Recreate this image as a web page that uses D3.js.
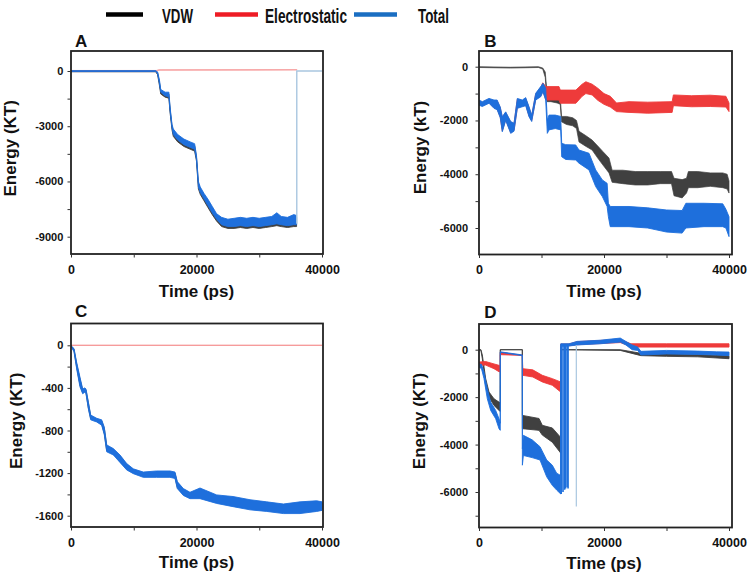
<!DOCTYPE html>
<html><head><meta charset="utf-8">
<script src="https://cdn.jsdelivr.net/npm/d3@7"></script>
<style>body{margin:0;background:#fff;} svg{display:block;font-family:Arial,"Liberation Sans",sans-serif;}</style>
</head><body><svg id="c" width="753" height="580"></svg>
<script>
// ---------- data ----------
const legendLabels = ["VDW", "Electrostatic", "Total"];
const xTicksMajor = [0, 20000, 40000];
const xTicksMinor = [10000, 30000];
const yTicksA = [0, -3000, -6000, -9000], yMinorA = [-1500, -4500, -7500];
const yTicksB = [0, -2000, -4000, -6000], yMinorB = [-1000, -3000, -5000];
const yTicksC = [0, -400, -800, -1200, -1600], yMinorC = [-200, -600, -1000, -1400];
const yTicksD = [0, -2000, -4000, -6000], yMinorD = [-1000, -3000, -5000, -7000];

// series: [time (ps), low, high]
const A_vdw = [[0,-40,0],[13500,-40,0],[13800,-200,-100],[14100,-800,-600],[14300,-1250,-1100],[15000,-1420,-1250],[15600,-1480,-1250],[15800,-2300,-2100],[16100,-3200,-3000],[16300,-3550,-3250],[17000,-3850,-3550],[18000,-4100,-3800],[19000,-4250,-3950],[19700,-4350,-4050],[20000,-4900,-4700],[20300,-6400,-6100],[20600,-6700,-6400],[21200,-7050,-6750],[21800,-7400,-7050],[22500,-7800,-7450],[23200,-8150,-7850],[24000,-8450,-8050],[25000,-8550,-8150],[26000,-8550,-8100],[27000,-8500,-8050],[28000,-8550,-8100],[29000,-8500,-8050],[30000,-8550,-8100],[31000,-8500,-8050],[32000,-8450,-8000],[32800,-8400,-7800],[33500,-8450,-8000],[34500,-8500,-8050],[35500,-8450,-7900],[35950,-8450,-7950]];
const A_elec = [[0,-30,30],[13600,-30,30],[14000,40,70],[36000,50,80]];
const A_total = [[0,-30,20],[13500,-30,20],[13800,-150,-50],[14100,-700,-500],[14300,-1150,-1000],[15000,-1350,-1150],[15600,-1400,-1150],[15800,-2200,-2000],[16100,-3100,-2900],[16300,-3450,-3150],[17000,-3750,-3450],[18000,-4000,-3700],[19000,-4150,-3850],[19700,-4250,-3950],[20000,-4800,-4600],[20300,-6300,-6000],[20600,-6600,-6300],[21200,-6950,-6650],[21800,-7300,-6950],[22500,-7700,-7350],[23200,-8050,-7750],[24000,-8350,-7950],[25000,-8450,-8050],[26000,-8450,-8000],[27000,-8400,-7950],[28000,-8450,-8000],[29000,-8400,-7950],[30000,-8450,-8000],[31000,-8400,-7950],[32000,-8350,-7900],[32800,-8300,-7700],[33500,-8350,-7900],[34500,-8400,-7950],[35500,-8350,-7800],[35950,-8350,-7850]];
const A_totalTail = [[35980,-8300],[35980,0],[40000,0]];

const B_vdw = [[0,-30,0],[5000,-50,-20],[9500,-30,0],[10200,-90,-50],[10600,-400,-200],[10900,-1300,-1050],[11500,-1300,-1000],[12500,-1350,-1050],[13000,-1400,-1100],[13200,-2050,-1850],[14000,-2150,-1850],[15000,-2200,-1900],[15600,-2300,-2000],[16000,-2800,-2400],[17000,-2950,-2550],[18100,-3100,-2730],[19000,-3400,-2950],[19800,-3650,-3150],[20800,-3950,-3400],[21300,-4300,-3850],[23000,-4350,-3850],[25000,-4400,-3900],[27000,-4400,-3900],[29000,-4350,-3900],[30800,-4350,-3900],[31200,-4800,-4150],[32500,-4880,-4200],[33200,-4700,-4150],[33500,-4500,-3900],[35000,-4500,-3900],[37000,-4450,-3950],[39000,-4500,-3950],[39700,-4550,-4000],[40000,-4700,-4250]];
const B_elec = [[0,-1400,-1270],[530,-1450,-1330],[1600,-1330,-1210],[2400,-1520,-1270],[2900,-1570,-1270],[3400,-1870,-1530],[3730,-2390,-1890],[4270,-1970,-1710],[5070,-2450,-2070],[5600,-2370,-2130],[6130,-1520,-1210],[6930,-1460,-1270],[7470,-1420,-1180],[8000,-1830,-1520],[8430,-2010,-1830],[9070,-1210,-1020],[9870,-1090,-770],[10200,-900,-600],[10700,-1240,-740],[12800,-1240,-740],[13000,-1360,-870],[15500,-1360,-870],[16500,-1100,-650],[17100,-1000,-560],[18100,-1050,-650],[19000,-1250,-800],[20000,-1400,-1000],[21000,-1500,-1100],[22000,-1670,-1350],[24000,-1700,-1300],[27000,-1730,-1320],[30900,-1700,-1300],[31100,-1450,-1050],[34000,-1490,-1080],[37000,-1480,-1060],[39500,-1500,-1100],[40000,-1670,-1350]];
const B_total = [[0,-1430,-1240],[530,-1480,-1300],[1600,-1360,-1180],[2400,-1550,-1240],[2900,-1600,-1240],[3400,-1900,-1500],[3730,-2420,-1860],[4270,-2000,-1680],[5070,-2480,-2040],[5600,-2400,-2100],[6130,-1550,-1180],[6930,-1490,-1240],[7470,-1450,-1150],[8000,-1860,-1490],[8430,-2040,-1800],[9070,-1240,-990],[9870,-1120,-740],[10240,-930,-620],[10670,-1240,-800],[10930,-2480,-1990],[11200,-2350,-1800],[12200,-2300,-1800],[13070,-2350,-1850],[13230,-3350,-2850],[13870,-3450,-2900],[15470,-3470,-2910],[16000,-3590,-3100],[17600,-3840,-3220],[18670,-4460,-3840],[19730,-4830,-4210],[20500,-5200,-4340],[20700,-5580,-5080],[21000,-5950,-5200],[24000,-5950,-5200],[27000,-6000,-5250],[30000,-6150,-5330],[32500,-6190,-5350],[33100,-6000,-5080],[36000,-5950,-5080],[39000,-5950,-5100],[39500,-6000,-5300],[40000,-6320,-5580]];

const C_vdw = [[0,-8,-2],[100,-18,-12],[480,-52,-38],[900,-205,-175],[1430,-375,-315],[1860,-445,-420],[2200,-430,-410],[2390,-445,-420],[2760,-585,-540],[3140,-690,-665],[4090,-710,-695],[4890,-740,-710],[5310,-830,-780],[5690,-990,-945],[6750,-1020,-980],[7810,-1090,-1040],[8870,-1160,-1120],[9930,-1195,-1170],[11520,-1230,-1200],[13650,-1230,-1190],[15770,-1230,-1190],[16570,-1240,-1200],[16940,-1335,-1290],[17900,-1400,-1355],[18960,-1430,-1390],[20560,-1430,-1350],[23220,-1475,-1415],[25820,-1505,-1430],[28530,-1535,-1460],[31190,-1550,-1480],[33850,-1570,-1500],[36500,-1570,-1480],[39150,-1550,-1470],[40000,-1540,-1480]];
const C_elec = [[0,0,0],[40000,0,0]];
const C_total = [[0,-10,0],[100,-20,-10],[480,-60,-30],[900,-220,-160],[1430,-390,-300],[1860,-455,-410],[2200,-440,-400],[2390,-455,-410],[2760,-595,-530],[3140,-700,-655],[4090,-720,-685],[4890,-750,-700],[5310,-840,-770],[5690,-1000,-935],[6750,-1030,-970],[7810,-1100,-1030],[8870,-1170,-1110],[9930,-1205,-1160],[11520,-1240,-1190],[13650,-1240,-1180],[15770,-1240,-1180],[16570,-1250,-1190],[16940,-1345,-1280],[17900,-1410,-1345],[18960,-1440,-1380],[20560,-1440,-1340],[23220,-1485,-1405],[25820,-1515,-1420],[28530,-1545,-1450],[31190,-1560,-1470],[33850,-1580,-1490],[36500,-1580,-1470],[39150,-1560,-1460],[40000,-1550,-1470]];

const D_vdw = [[0,0,0],[300,-20,0],[530,-380,-220],[1070,-1500,-1220],[1600,-2000,-1785],[2400,-2350,-2070],[3200,-2560,-2210],[3400,-2600,-2250],[3410,0,0],[6930,0,0],[6940,-3330,-2770],[9600,-3400,-2900],[10130,-3600,-3190],[11730,-3900,-3300],[13070,-4360,-3700],[13080,0,0],[22600,-30,0],[25900,-250,-150],[30000,-280,-170],[35000,-300,-200],[40000,-380,-260]];
const D_elec = [[0,-660,-520],[1070,-650,-500],[2400,-800,-600],[3200,-930,-660],[3400,-930,-700],[3410,-210,-110],[6930,-240,-230],[7000,-1080,-800],[8600,-1150,-850],[10130,-1360,-1080],[11730,-1500,-1220],[13070,-1785,-1360],[13080,160,240],[14400,165,240],[15700,210,340],[19400,260,390],[22600,300,420],[23500,220,330],[24300,110,250],[30000,110,250],[40000,110,250]];
const D_total = [[0,-730,-590],[400,-800,-620],[800,-1220,-940],[1330,-2070,-1650],[1870,-2560,-2210],[2670,-2910,-2560],[3200,-3330,-2910],[3400,-3400,-3100],[3410,-110,-90],[6930,-250,-220],[6940,-4870,-4180],[7100,-4460,-3610],[8500,-4550,-3800],[9760,-4650,-4090],[10830,-5360,-4650],[11730,-5720,-4870],[12430,-5920,-5210],[13070,-6080,-5300],[13080,150,250],[14400,155,250],[15700,200,350],[19400,250,400],[22600,320,490],[23500,200,350],[24500,0,200],[25400,-30,110],[25900,-225,-70],[30000,-180,-30],[35000,-200,-60],[38000,-225,-90],[40000,-250,-100]];
const D_spikes = [[13150,-6080,220],[13440,-6000,220],[13700,-5900,220],[13850,-5850,220],[14100,-5800,220],[14250,-5850,220]];
const D_spikeLight = [[15570,-6610,200]];

// ---------- drawing ----------
const svg = d3.select("#c");
const COL = {vdw:"#404040", elec:"#ee3b3b", total:"#1e6fdc", light:"#a9c6e0"};

const leg = [
  {x1:106,x2:143,tx:162,tw:31,c:"#000000"},
  {x1:215,x2:258,tx:265,tw:82,c:"#ee1c25"},
  {x1:354,x2:397,tx:418,tw:31,c:"#1a6ec2"}];
leg.forEach((l,i)=>{
  svg.append("line").attr("x1",l.x1).attr("x2",l.x2).attr("y1",14.5).attr("y2",14.5)
    .attr("stroke",l.c).attr("stroke-width",4.5);
  svg.append("text").attr("x",l.tx).attr("y",23.3).attr("font-size",20).attr("font-weight","bold")
    .attr("textLength",l.tw).attr("lengthAdjust","spacingAndGlyphs").attr("fill","#111").text(legendLabels[i]);
});

const panels = [
  {id:"A", fl:71, fr:323, ft:51, fb:254, xr:[71,322], yd:[0,-9000], yr:[71,236.7], yt:yTicksA, ym:yMinorA,
   ylab:"Energy (KT)", ylx:16, yly:148.3, xly:296.7, lx:75, ly:46.7, ytx:63.3,
   vdw:A_vdw, elec:A_elec, total:A_total, elecOpacity:0.45},
  {id:"B", fl:479, fr:732, ft:51, fb:254.5, xr:[479,729], yd:[0,-6000], yr:[66.7,228], yt:yTicksB, ym:yMinorB,
   ylab:"Energy (kT)", ylx:426, yly:147.5, xly:296.7, lx:484.3, ly:46.7, ytx:468,
   vdw:B_vdw, elec:B_elec, total:B_total, elecOpacity:1},
  {id:"C", fl:71, fr:323, ft:323.5, fb:527, xr:[71,322], yd:[0,-1600], yr:[345.3,515.7], yt:yTicksC, ym:yMinorC,
   ylab:"Energy (KT)", ylx:22, yly:420.8, xly:567.5, lx:75, ly:317.3, ytx:63.3,
   vdw:C_vdw, elec:C_elec, total:C_total, elecOpacity:0.55},
  {id:"D", fl:479, fr:732, ft:324, fb:527.5, xr:[479,729], yd:[0,-6000], yr:[349.7,492], yt:yTicksD, ym:yMinorD,
   ylab:"Energy (KT)", ylx:425, yly:421, xly:568.5, lx:484.3, ly:318.3, ytx:468,
   vdw:D_vdw, elec:D_elec, total:D_total, elecOpacity:1}
];

panels.forEach(p=>{
  const x = d3.scaleLinear().domain([0,40000]).range(p.xr);
  const y = d3.scaleLinear().domain(p.yd).range(p.yr);
  const g = svg.append("g");
  const clipId = "clip"+p.id;
  svg.append("clipPath").attr("id",clipId).append("rect")
    .attr("x",p.fl).attr("y",p.ft).attr("width",p.fr-p.fl).attr("height",p.fb-p.ft);
  const plot = g.append("g").attr("clip-path",`url(#${clipId})`);
  const area = d3.area().x(d=>x(d[0])).y0(d=>y(d[1])).y1(d=>y(d[2]));
  const band = (data,color,op,sw)=> plot.append("path").attr("d",area(data))
    .attr("fill",color).attr("stroke",color).attr("stroke-width",sw).attr("opacity",op)
    .attr("stroke-linejoin","round");
  band(p.vdw, COL.vdw, 1, p.id==="B"?0.7:0.9);
  band(p.elec, COL.elec, p.elecOpacity, 0.9);
  band(p.total, COL.total, 1, 0.9);
  if(p.id==="A"){
    plot.append("path").attr("d",d3.line().x(d=>x(d[0])).y(d=>y(d[1]))(A_totalTail))
      .attr("fill","none").attr("stroke",COL.light).attr("stroke-width",1.4);
  }
  if(p.id==="D"){
    plot.selectAll(".sp").data(D_spikes).join("line")
      .attr("x1",d=>x(d[0])).attr("x2",d=>x(d[0])).attr("y1",d=>y(d[1])).attr("y2",d=>y(d[2]))
      .attr("stroke",COL.total).attr("stroke-width",1.6);
    plot.selectAll(".sl").data(D_spikeLight).join("line")
      .attr("x1",d=>x(d[0])).attr("x2",d=>x(d[0])).attr("y1",d=>y(d[1])).attr("y2",d=>y(d[2]))
      .attr("stroke",COL.light).attr("stroke-width",1.2);
  }
  g.append("rect").attr("x",p.fl).attr("y",p.ft).attr("width",p.fr-p.fl).attr("height",p.fb-p.ft)
    .attr("fill","none").attr("stroke","#222").attr("stroke-width",1.8);
  const xa = d3.axisBottom(x).tickValues(xTicksMajor.concat(xTicksMinor)).tickSize(3.5).tickPadding(7.5)
    .tickFormat(d=> xTicksMajor.includes(d) ? String(d) : "");
  const gx = g.append("g").attr("transform",`translate(0,${p.fb})`).call(xa);
  gx.select(".domain").remove();
  gx.selectAll("line").attr("stroke","#333");
  gx.selectAll("text").attr("font-size",12.5).attr("font-weight","bold").attr("fill","#111")
    .attr("font-family","Arial, Liberation Sans, sans-serif");
  const ya = d3.axisLeft(y).tickValues(p.yt.concat(p.ym)).tickSize(3.5).tickPadding(0)
    .tickFormat(d=> p.yt.includes(d) ? String(d) : "");
  const gy = g.append("g").attr("transform",`translate(${p.fl},0)`).call(ya);
  gy.select(".domain").remove();
  gy.selectAll("line").attr("stroke","#333");
  gy.selectAll("text").attr("x", p.ytx - p.fl).attr("font-size",11).attr("font-weight","bold").attr("fill","#111")
    .attr("font-family","Arial, Liberation Sans, sans-serif");
  g.append("text").attr("x",(p.xr[0]+p.xr[1])/2).attr("y",p.xly).attr("text-anchor","middle")
    .attr("font-size",17).attr("font-weight","bold").attr("fill","#111").text("Time (ps)");
  g.append("text").attr("transform",`translate(${p.ylx},${p.yly}) rotate(-90)`).attr("text-anchor","middle")
    .attr("font-size",17).attr("font-weight","bold").attr("fill","#111").text(p.ylab);
  g.append("text").attr("x",p.lx).attr("y",p.ly).attr("font-size",17).attr("font-weight","bold")
    .attr("fill","#111").text(p.id);
});
</script></body></html>
